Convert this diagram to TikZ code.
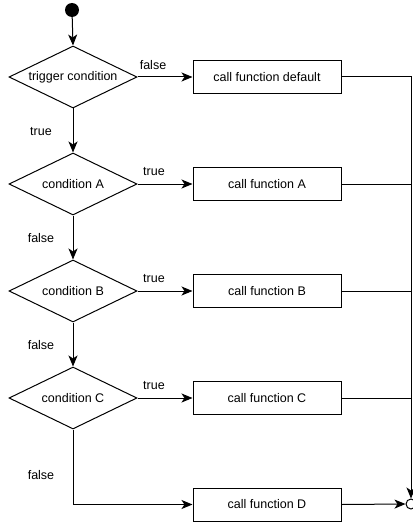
\documentclass[tikz,border=0pt]{standalone}
\usepackage{fontspec}
\setmainfont{Liberation Sans}
\usetikzlibrary{shapes.geometric,arrows.meta}
\begin{document}
\begin{tikzpicture}[x=1pt,y=-1pt,
  every node/.style={font=\fontsize{12.5}{15}\selectfont},
  decision/.style={draw, diamond, line width=1pt, inner sep=0pt, aspect=2.06,
    minimum width=128pt, minimum height=62pt},
  action/.style={draw, rectangle, line width=1pt, minimum width=148pt, minimum height=33pt},
  flow/.style={draw, line width=1pt, -{Stealth[length=11pt,width=9pt,inset=3pt]}},
  joinline/.style={draw, line width=1pt},
  lbl/.style={inner sep=0pt}
]
\useasboundingbox (0,0) rectangle (412,524);

% start and end markers
\node[circle, fill=black, minimum size=14pt, inner sep=0pt] (start) at (72,10) {};
\node[circle, draw, line width=1pt, minimum size=10pt, inner sep=0pt] (end) at (411,504) {};

% decisions
\node[decision] (trig) at (73,77) {trigger condition};
\node[decision] (ca) at (73,184) {condition A};
\node[decision] (cb) at (73,291) {condition B};
\node[decision] (cc) at (73,398) {condition C};

% actions
\node[action] (fdef) at (267,77) {call function default};
\node[action] (fa) at (267,184) {call function A};
\node[action] (fb) at (267,291) {call function B};
\node[action] (fc) at (267,398) {call function C};
\node[action] (fd) at (267,504.5) {call function D};

% merge points on the collecting line
\coordinate (ja) at (411,184);
\coordinate (jb) at (411,291);
\coordinate (jc) at (411,398);

% main spine
\draw[flow] (start) -- (trig.north);
\draw[flow] (trig.south) -- (ca.north);
\draw[flow] (ca.south) -- (cb.north);
\draw[flow] (cb.south) -- (cc.north);
\draw[flow] (cc.south) |- (fd.west);

% branches
\draw[flow] (trig.east) -- (fdef.west);
\draw[flow] (ca.east) -- (fa.west);
\draw[flow] (cb.east) -- (fb.west);
\draw[flow] (cc.east) -- (fc.west);

% collecting line to the end
\draw[flow] (fdef.east) -| (end.north);
\draw[joinline] (fa.east) -- (ja);
\draw[joinline] (fb.east) -- (jb);
\draw[joinline] (fc.east) -- (jc);
\draw[flow] (fd.east) -- (end.west);

% labels
\node[lbl] at (153,65) {false};
\node[lbl] at (41,132) {true};
\node[lbl] at (154,172) {true};
\node[lbl] at (41,238) {false};
\node[lbl] at (154,279) {true};
\node[lbl] at (41,345) {false};
\node[lbl] at (154,386) {true};
\node[lbl] at (41,475) {false};
\end{tikzpicture}
\end{document}
